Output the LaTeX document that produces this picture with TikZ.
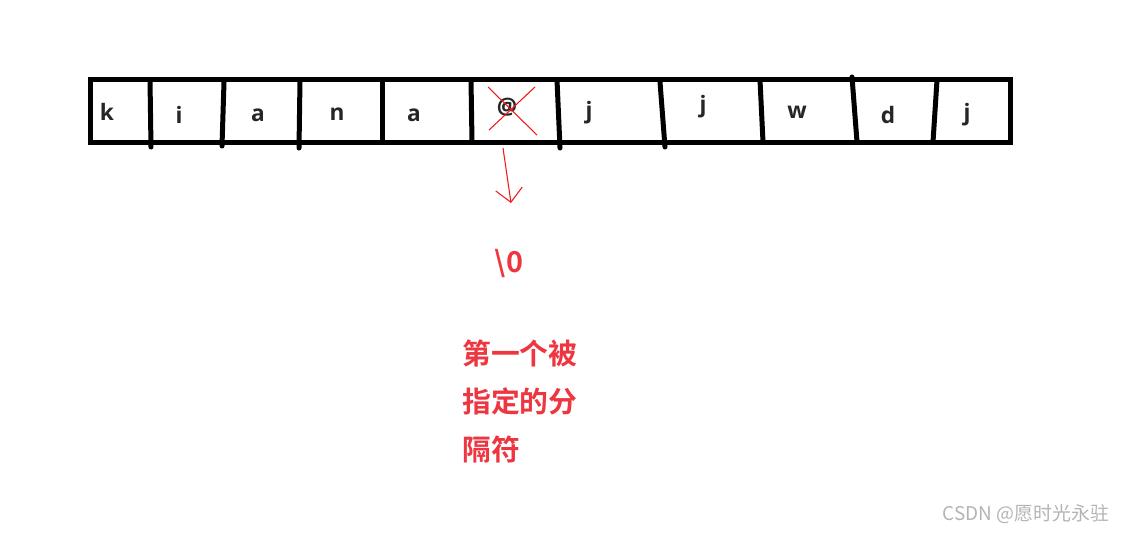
\documentclass[tikz,border=0pt]{standalone}
\usepackage{fontspec}
\usepackage{xcolor,tikz}
\usetikzlibrary{arrows.meta,positioning}
\setmainfont{Open Sans}
\newfontfamily\cjk{Noto Sans CJK SC}
\newfontfamily\cjkbold{Noto Sans CJK SC Bold}
\definecolor{MarkRed}{HTML}{EE3640}
\definecolor{PenRed}{HTML}{F01818}
\definecolor{MarkGray}{HTML}{B4B4B4}
\tikzset{cellline/.style={line width=3.75pt,line cap=round},
 letter/.style={font=\fontsize{17}{18}\selectfont\bfseries,anchor=base,text=black!85,inner sep=0pt},
 note/.style={font=\fontsize{21.6}{24}\cjkbold,text=MarkRed,inner sep=0pt},
 pen/.style={PenRed,line width=0.8pt}}
\begin{document}
\begin{tikzpicture}[x=0.75pt,y=-0.75pt]
\useasboundingbox (0,0) rectangle (1130,533);
\draw[cellline,line cap=butt] (90,79.5) rectangle (1010,142.5);
\foreach \xt/\yt/\xb/\yb in {150/80/151/147,224/82/222/146,300/80/299/148,382/80/382/142,
 471/80/472/142,557/80/560/148,660/82/665/147,760/80/763/142,852/77/857/142,937/80/933/142}
 \draw[cellline] (\xt,\yt)--(\xb,\yb);
\foreach \t/\x/\y [count=\i] in {k/107/120,i/179/123,a/258/121,n/337/120,a/414/121,@/507/114,
 j/589/118,j/703/112,w/797/118,d/888/123,j/967/120}
 \node[letter] (c\i) at (\x,\y) {\t};
% crossed out
\draw[pen] (488,87)--(537,135);
\draw[pen] (535,87)--(489,130);
\coordinate (tail) at (503,148);
\coordinate (head) at (511,203);
\draw[pen,-{Straight Barb[length=10pt,width=20pt]}] (tail)--(head);
\node[note,anchor=base] (zero) at (509,272) {\textbackslash 0};
\node[note,anchor=base west] (l1) at (462,364) {第一个被};
\node[note,anchor=base west] (l2) at (462,412) {指定的分};
\node[note,anchor=base west] (l3) at (462,460) {隔符};
\node[font=\fontsize{14.2}{15}\cjk,text=MarkGray,anchor=east] (mark) at (1114,514) {CSDN @愿时光永驻};
\end{tikzpicture}
\end{document}
